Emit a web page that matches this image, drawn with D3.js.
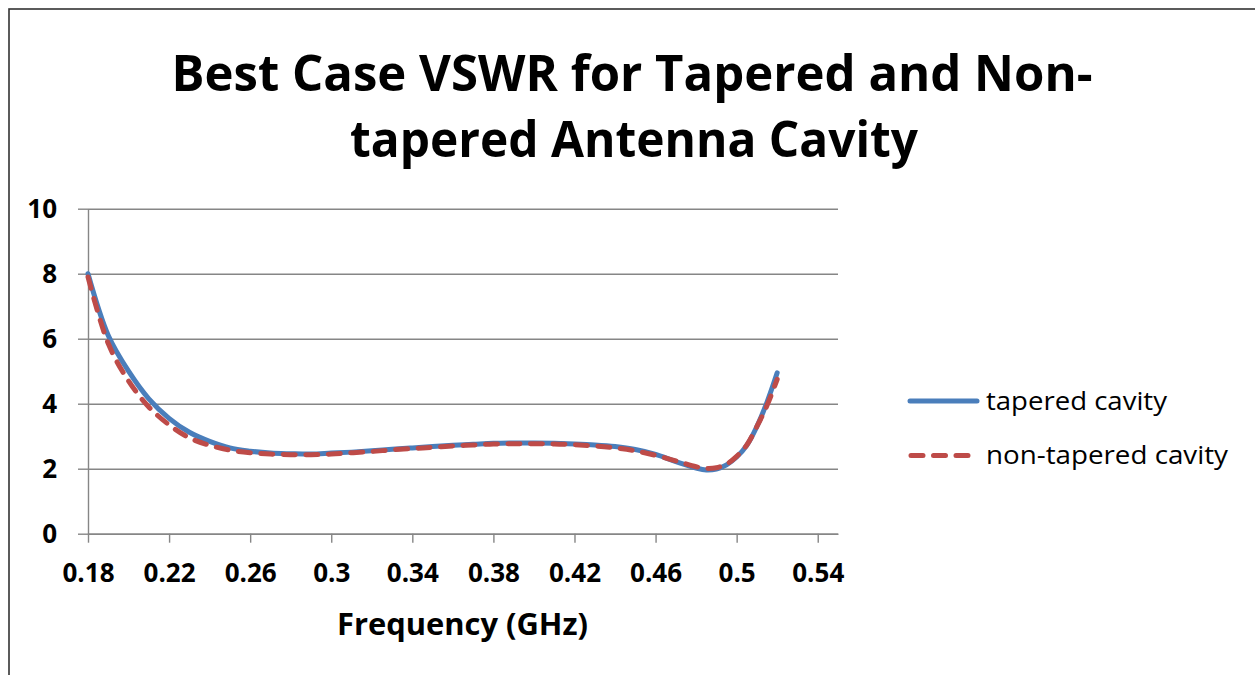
<!DOCTYPE html>
<html>
<head>
<meta charset="utf-8">
<script src="https://cdn.jsdelivr.net/npm/d3@7"></script>
<style>
  body { margin: 0; background: #fff; }
  svg { display: block; font-family: "Open Sans", sans-serif; }
</style>
</head>
<body>
<svg id="chart" width="1255" height="675"></svg>
<script>
// data
const freq = [0.18, 0.19, 0.20, 0.21, 0.22, 0.23, 0.24, 0.25, 0.26, 0.27, 0.28, 0.29,
              0.30, 0.31, 0.32, 0.33, 0.34, 0.35, 0.36, 0.37, 0.38, 0.39, 0.40, 0.41,
              0.42, 0.43, 0.44, 0.45, 0.46, 0.47, 0.48, 0.485, 0.49, 0.495, 0.50,
              0.505, 0.51, 0.515, 0.52];
const tapered = [8.0, 6.1, 5.0, 4.15, 3.55, 3.12, 2.84, 2.64, 2.54, 2.48, 2.46, 2.45,
                 2.48, 2.51, 2.55, 2.6, 2.64, 2.68, 2.72, 2.75, 2.78, 2.79, 2.79, 2.78,
                 2.76, 2.73, 2.68, 2.59, 2.44, 2.22, 2.02, 1.96, 1.99, 2.12, 2.36,
                 2.72, 3.3, 4.05, 4.95];
const nonTapered = [7.9, 5.85, 4.7, 3.9, 3.35, 2.95, 2.72, 2.57, 2.49, 2.45, 2.43, 2.43,
                    2.45, 2.49, 2.53, 2.58, 2.62, 2.66, 2.7, 2.73, 2.76, 2.77, 2.77, 2.76,
                    2.74, 2.7, 2.64, 2.55, 2.41, 2.24, 2.06, 2.01, 2.03, 2.14, 2.38,
                    2.73, 3.3, 3.95, 4.75];
const seriesNames = ["tapered cavity", "non-tapered cavity"];
const xTicks = [0.18, 0.22, 0.26, 0.3, 0.34, 0.38, 0.42, 0.46, 0.5, 0.54];
const yTicks = [0, 2, 4, 6, 8, 10];
const titleLines = ["Best Case VSWR for Tapered and Non-", "tapered Antenna Cavity"];
const xTitle = "Frequency (GHz)";

const svg = d3.select("#chart");
const plotLeft = 88, plotRight = 838, plotTop = 208.7, plotBottom = 533.7;
const grey = "#868686";

// outer frame of the chart
svg.append("rect")
  .attr("x", 9).attr("y", 9)
  .attr("width", 1300).attr("height", 800)
  .attr("fill", "none")
  .attr("stroke", "#333")
  .attr("stroke-width", 1.6);

const x = d3.scaleLinear().domain([0.18, 0.55]).range([plotLeft, plotRight]);
const y = d3.scaleLinear().domain([0, 10]).range([plotBottom, plotTop]);

// gridlines
svg.append("g")
  .attr("transform", `translate(${plotLeft},0)`)
  .call(d3.axisLeft(y).tickValues(yTicks).tickSize(-(plotRight - plotLeft)).tickFormat(""))
  .call(g => g.select(".domain").remove())
  .call(g => g.selectAll("line").attr("stroke", grey).attr("stroke-width", 1.4));

// y axis
svg.append("g")
  .attr("transform", `translate(${plotLeft},0)`)
  .call(d3.axisLeft(y).tickValues(yTicks).tickSize(10).tickSizeOuter(0).tickPadding(21))
  .call(g => g.select(".domain").attr("stroke", grey).attr("stroke-width", 1.4))
  .call(g => g.selectAll("line").attr("stroke", grey).attr("stroke-width", 1.4))
  .call(g => g.selectAll("text")
    .attr("font-family", "Open Sans").attr("font-weight", "bold")
    .attr("font-size", 26).attr("fill", "#000"));

// x axis
svg.append("g")
  .attr("transform", `translate(0,${plotBottom})`)
  .call(d3.axisBottom(x).tickValues(xTicks).tickSize(9).tickSizeOuter(0)
    .tickPadding(21).tickFormat(d => String(d)))
  .call(g => g.select(".domain").attr("stroke", grey).attr("stroke-width", 1.4))
  .call(g => g.selectAll("line").attr("stroke", grey).attr("stroke-width", 1.4))
  .call(g => g.selectAll("text")
    .attr("font-family", "Open Sans").attr("font-weight", "bold")
    .attr("font-size", 26).attr("fill", "#000"));

// lines
const line = d3.line()
  .x(d => x(d[0]))
  .y(d => y(d[1]))
  .curve(d3.curveCatmullRom.alpha(0.5));

svg.append("path")
  .datum(freq.map((f, i) => [f, tapered[i]]))
  .attr("d", line)
  .attr("fill", "none")
  .attr("stroke", "#4a7ebb")
  .attr("stroke-width", 5)
  .attr("stroke-linecap", "round")
  .attr("stroke-linejoin", "round");

svg.append("path")
  .datum(freq.map((f, i) => [f, nonTapered[i]]))
  .attr("d", line)
  .attr("fill", "none")
  .attr("stroke", "#be4b48")
  .attr("stroke-width", 5)
  .attr("stroke-dasharray", "12,10.5")
  .attr("stroke-linecap", "round");

// title
svg.append("text")
  .attr("x", 632).attr("y", 91)
  .attr("text-anchor", "middle")
  .attr("font-weight", "bold").attr("font-size", 50)
  .attr("textLength", 921).attr("lengthAdjust", "spacingAndGlyphs")
  .text(titleLines[0]);
svg.append("text")
  .attr("x", 634).attr("y", 157)
  .attr("text-anchor", "middle")
  .attr("font-weight", "bold").attr("font-size", 50)
  .attr("textLength", 568).attr("lengthAdjust", "spacingAndGlyphs")
  .text(titleLines[1]);

// x axis title
svg.append("text")
  .attr("x", 462.5).attr("y", 635)
  .attr("text-anchor", "middle")
  .attr("font-weight", "bold").attr("font-size", 31)
  .attr("textLength", 251).attr("lengthAdjust", "spacingAndGlyphs")
  .text(xTitle);

// legend
const legend = svg.append("g");
legend.append("line")
  .attr("x1", 910).attr("x2", 977).attr("y1", 401).attr("y2", 401)
  .attr("stroke", "#4a7ebb").attr("stroke-width", 5).attr("stroke-linecap", "round");
legend.append("line")
  .attr("x1", 911).attr("x2", 970).attr("y1", 455.5).attr("y2", 455.5)
  .attr("stroke", "#be4b48").attr("stroke-width", 5)
  .attr("stroke-dasharray", "12,10.5").attr("stroke-linecap", "round");
legend.selectAll("text.lab")
  .data(seriesNames)
  .join("text")
  .attr("class", "lab")
  .attr("x", 986)
  .attr("y", (d, i) => 409.5 + i * 54.5)
  .attr("font-size", 25)
  .attr("textLength", (d, i) => i === 0 ? 181 : 242)
  .attr("lengthAdjust", "spacingAndGlyphs")
  .text(d => d);
</script>
</body>
</html>
